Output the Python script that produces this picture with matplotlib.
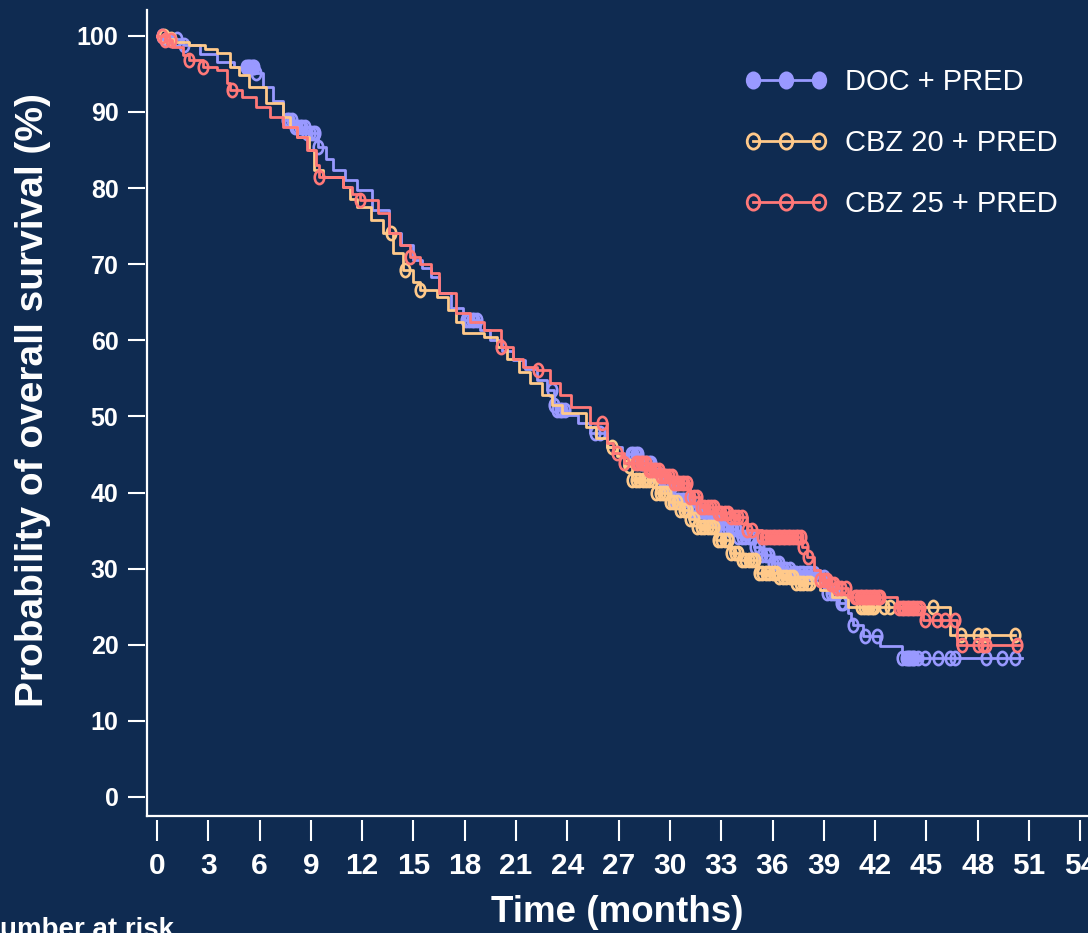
import matplotlib.pyplot as plt
import numpy as np
from matplotlib.lines import Line2D
from matplotlib.path import Path
from matplotlib.transforms import Affine2D

plt.rcParams['font.family'] = ['Liberation Sans', 'DejaVu Sans']

BG = '#0f2b51'
FG = 'white'

arm_names = ['DOC + PRED', 'CBZ 20 + PRED', 'CBZ 25 + PRED']
arm_colors = ['#9999ff', '#ffc98a', '#ff7878']

# Kaplan-Meier steps: time (months) where the curve changes, survival (%) from then on
doc_t = [0, 0.6, 1.5, 2.5, 3.5, 4.5, 5.8, 6.2, 6.8, 7.4, 8.0, 8.7, 9.4, 9.9, 10.3, 11.0,
         11.7, 12.6, 13.6, 14.3, 15.0, 15.5, 16.0, 16.5, 17.2, 17.9, 18.9, 19.5, 20.2,
         20.8, 21.5, 22.2, 22.8, 23.2, 23.4, 24.0, 24.6, 25.3, 26.3, 27.2, 28.2, 29.0,
         29.6, 30.2, 31.2, 32.2, 33.0, 33.9, 34.9, 35.4, 36.0, 36.6, 37.2, 38.6, 39.2,
         39.9, 40.4, 40.6, 40.7, 41.3, 42.3, 43.6, 50.6]
doc_s = [100, 99.6, 98.8, 97.6, 96.6, 95.9, 95.1, 93.3, 91.5, 89.0, 88.0, 87.2, 85.4,
         83.8, 82.4, 81.0, 79.8, 77.1, 74.1, 72.5, 70.6, 69.5, 68.3, 66.2, 64.2, 62.7,
         61.4, 60.0, 58.6, 57.4, 56.2, 54.8, 53.5, 51.5, 50.9, 50.2, 49.2, 47.8, 46.0,
         45.0, 43.9, 42.3, 40.8, 39.0, 37.6, 36.4, 35.2, 34.2, 32.9, 31.8, 30.7, 29.9,
         29.4, 28.9, 26.8, 25.5, 24.2, 23.3, 22.6, 21.2, 19.8, 18.3, 18.3]
doc_cens = [0.3, 0.6, 1.2, 1.6, 5.2, 5.3, 5.4, 5.5, 5.6, 5.7, 5.8, 7.6, 7.75, 7.9, 8.05,
            8.2, 8.35, 8.5, 8.65, 8.8, 8.95, 9.1, 9.25, 9.4, 18.1, 18.25, 18.4, 18.55,
            18.7, 23.1, 23.25, 23.4, 23.55, 23.7, 23.85, 25.6, 25.9, 27.7, 27.85, 28.0,
            28.15, 28.3, 28.45, 28.6, 28.75, 28.9, 29.05, 29.2, 29.35, 29.5, 29.65, 29.8,
            29.95, 30.1, 30.25, 30.4, 30.55, 30.7, 30.85, 31.0, 31.15, 31.3, 31.45, 31.6,
            31.75, 31.9, 32.05, 32.2, 32.35, 32.5, 32.65, 32.8, 32.95, 33.1, 33.25, 33.4,
            33.55, 33.7, 33.85, 34.0, 34.2, 34.4, 34.6, 34.8, 35.0, 35.2, 35.4, 35.6,
            35.8, 36.0, 36.2, 36.4, 36.6, 36.8, 37.0, 37.2, 37.4, 37.6, 37.8, 38.0, 38.2,
            38.4, 38.6, 38.8, 39.0, 39.2, 39.4, 39.6, 39.8, 40.0, 40.1, 40.7, 41.4, 42.1,
            43.6, 43.8, 43.9, 44.0, 44.1, 44.2, 44.3, 44.5, 44.9, 45.7, 46.4, 46.7, 48.5,
            49.4, 50.2]

cbz20_t = [0, 0.5, 1.0, 1.9, 2.8, 3.5, 4.3, 4.8, 5.4, 6.4, 7.4, 7.8, 8.2, 8.9, 9.2, 9.7,
           10.9, 11.3, 11.7, 12.5, 13.2, 13.8, 14.4, 15.0, 15.4, 16.4, 17.0, 17.5, 17.9,
           19.1, 19.9, 20.5, 21.2, 21.8, 22.5, 23.1, 23.7, 25.1, 25.7, 26.3, 26.9, 27.3,
           27.8, 29.2, 30.0, 30.6, 31.1, 31.6, 32.7, 33.5, 34.1, 35.1, 36.3, 37.4, 38.8,
           39.5, 40.4, 46.4, 50.2]
cbz20_s = [100, 99.6, 99.2, 98.8, 98.3, 97.8, 95.9, 94.8, 93.3, 91.2, 89.4, 88.0, 86.7,
           85.0, 82.4, 81.5, 80.2, 78.6, 77.5, 75.8, 74.1, 71.5, 69.2, 67.6, 66.6, 65.7,
           64.0, 62.4, 61.0, 60.4, 59.1, 57.6, 55.9, 54.4, 52.8, 51.5, 50.5, 48.6, 47.2,
           46.0, 44.8, 43.5, 41.7, 39.9, 38.7, 37.7, 36.5, 35.5, 33.8, 32.1, 31.1, 29.4,
           28.9, 28.1, 27.2, 26.3, 25.0, 21.3, 21.3]
cbz20_cens = [0.4, 0.8, 13.7, 14.5, 15.4, 26.6, 27.6, 27.8, 28.0, 28.2, 28.4, 28.6, 28.8,
              29.0, 29.2, 29.4, 29.6, 29.8, 30.0, 30.2, 30.4, 30.6, 30.8, 31.0, 31.2,
              31.4, 31.6, 31.8, 32.0, 32.2, 32.4, 32.6, 32.8, 33.0, 33.2, 33.4, 33.6,
              33.8, 34.0, 34.2, 34.4, 34.6, 34.8, 35.0, 35.2, 35.4, 35.6, 35.8, 36.0,
              36.2, 36.4, 36.6, 36.8, 37.0, 37.2, 37.4, 37.6, 37.8, 38.0, 38.2, 41.2,
              41.35, 41.5, 41.65, 41.8, 41.95, 42.5, 42.9, 45.4, 47.0, 48.0, 48.4, 50.2]

cbz25_t = [0, 0.5, 0.9, 1.5, 1.9, 2.7, 3.5, 4.1, 4.3, 5.0, 5.8, 6.6, 7.4, 8.2, 8.8, 9.3,
           9.5, 10.9, 11.4, 11.9, 12.9, 13.6, 14.2, 14.8, 15.4, 16.0, 16.5, 17.5, 18.3,
           19.1, 20.1, 20.8, 21.4, 22.2, 23.0, 23.6, 24.2, 25.3, 26.3, 26.7, 27.3, 28.7,
           29.5, 30.2, 31.2, 31.8, 32.7, 33.5, 34.5, 35.4, 37.7, 38.0, 38.4, 38.8, 39.3,
           39.8, 40.4, 43.3, 44.8, 46.8, 50.5]
cbz25_s = [100, 99.5, 98.6, 97.5, 96.8, 95.9, 95.5, 93.8, 92.9, 92.0, 90.7, 89.4, 88.0,
           86.7, 85.0, 83.0, 81.5, 80.2, 79.2, 78.4, 76.7, 74.1, 72.5, 71.0, 70.0, 68.9,
           66.2, 63.6, 62.4, 61.4, 59.1, 57.6, 56.5, 56.1, 54.4, 52.8, 51.2, 49.1, 46.5,
           45.2, 43.9, 43.0, 42.2, 41.3, 39.4, 38.1, 37.3, 36.8, 35.1, 34.2, 32.9, 31.5,
           29.8, 28.5, 28.0, 27.4, 26.3, 24.8, 23.3, 20.0, 20.0]
cbz25_cens = [0.3, 0.5, 0.8, 1.9, 2.7, 4.4, 9.5, 11.9, 14.8, 20.1, 22.3, 26.0, 26.9, 27.3,
              28.0, 28.15, 28.3, 28.45, 28.6, 28.75, 28.9, 29.05, 29.2, 29.35, 29.5,
              29.65, 29.8, 29.95, 30.1, 30.25, 30.4, 30.55, 30.7, 30.85, 31.0, 31.2,
              31.4, 31.6, 31.8, 32.0, 32.2, 32.4, 32.6, 32.8, 33.0, 33.2, 33.4, 33.6,
              33.8, 34.0, 34.2, 34.5, 34.8, 35.4, 35.55, 35.7, 35.85, 36.0, 36.15, 36.3,
              36.45, 36.6, 36.75, 36.9, 37.05, 37.2, 37.35, 37.5, 37.65, 37.8, 38.1,
              38.8, 39.0, 39.2, 39.4, 39.6, 39.8, 40.0, 40.3, 40.8, 40.95, 41.1, 41.25,
              41.4, 41.55, 41.7, 41.85, 42.0, 42.15, 42.3, 43.4, 43.55, 43.7, 43.85,
              44.0, 44.15, 44.3, 44.45, 44.6, 44.9, 45.6, 46.1, 46.7, 47.1, 48.0, 48.3,
              48.5, 50.3]

x_ticks = list(range(0, 55, 3))
y_ticks = list(range(0, 101, 10))

# tall oval used for censoring marks
oval = Path.unit_circle().transformed(Affine2D().scale(0.72, 1.0))
oval_leg = Path.unit_circle().transformed(Affine2D().scale(0.82, 1.0))

fig = plt.figure(figsize=(10.88, 9.33), dpi=100, facecolor=BG)
ax = fig.add_axes([147 / 1088, 1 - 816 / 933, 1 - 147 / 1088, (816 - 10) / 933])
ax.set_facecolor(BG)

arms = [(doc_t, doc_s, doc_cens), (cbz20_t, cbz20_s, cbz20_cens), (cbz25_t, cbz25_s, cbz25_cens)]
order = [1, 0, 2]
for i in order:
    t, s, cens = arms[i]
    t = np.array(t)
    s = np.array(s)
    c = np.array(cens)
    ax.step(t, s, where='post', color=arm_colors[i], lw=2, zorder=3 + i)
    cy = s[np.searchsorted(t, c, side='right') - 1]
    ax.plot(c, cy, ls='none', marker=oval, ms=9.5, mfc='none', mec=arm_colors[i],
            mew=1.9, zorder=3 + i)

ax.set_xlim(-0.58, 54.45)
ax.set_ylim(-2.5, 103.4)
ax.set_xticks(x_ticks)
ax.set_yticks(y_ticks)

for side in ['top', 'right']:
    ax.spines[side].set_visible(False)
# ticks sit slightly off the axis lines
ax.spines['bottom'].set_position(('outward', 3))
ax.spines['left'].set_position(('outward', 1.5))
ax.spines['bottom'].set_visible(False)
ax.spines['left'].set_visible(False)
ax.plot([0, 1], [0, 0], transform=ax.transAxes, color=FG, lw=1.6, clip_on=False)
ax.plot([0, 0], [0, 1], transform=ax.transAxes, color=FG, lw=1.6, clip_on=False)

ax.tick_params(axis='x', direction='out', length=15, width=1.5, color=FG, pad=8,
               labelsize=21.5, labelcolor=FG)
ax.tick_params(axis='y', direction='out', length=12, width=1.5, color=FG, pad=7,
               labelsize=18, labelcolor=FG)
for lab in ax.get_xticklabels() + ax.get_yticklabels():
    lab.set_fontweight('bold')

fig.text(33 / 1088, 1 - 400 / 933, 'Probability of overall survival (%)', rotation=90,
         ha='center', va='center', fontsize=28, fontweight='bold', color=FG)
fig.text(617 / 1088, 1 - 912 / 933, 'Time (months)', ha='center', va='center',
         fontsize=26.5, fontweight='bold', color=FG)
fig.text(-20 / 1088, -4 / 933, 'Number at risk', ha='left', va='baseline',
         fontsize=20, fontweight='bold', color=FG)

handles = []
for i, col in enumerate(arm_colors):
    handles.append(Line2D([], [], color=col, lw=2, marker=oval_leg, ms=11,
                          mfc=col if i == 0 else 'none', mec=col, mew=2))
ax.legend(handles, arm_names, numpoints=3, frameon=False, fontsize=21, labelcolor=FG,
          handlelength=2.86, handletextpad=0.6, labelspacing=1.14, borderpad=0,
          borderaxespad=0, loc='upper left', bbox_to_anchor=(744 / 1088, 1 - 68 / 933),
          bbox_transform=fig.transFigure)

fig.savefig('out.png', dpi=100, facecolor=BG)
